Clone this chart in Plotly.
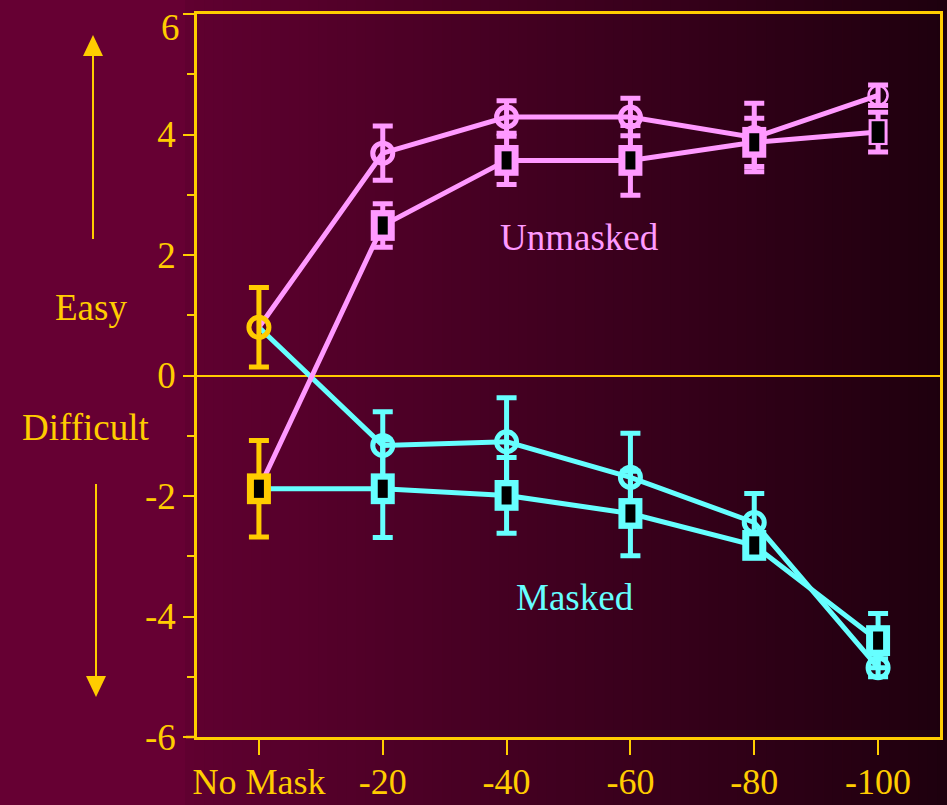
import plotly.graph_objects as go

# ---- data -------------------------------------------------------------
categories = ["No Mask", "-20", "-40", "-60", "-80", "-100"]
masked_cats = categories[1:]

# shared starting point (no mask condition)
no_mask_circle = 0.80
no_mask_circle_err = 0.66
no_mask_square = -1.88
no_mask_square_err = 0.80

unmasked_circle = [3.69, 4.29, 4.29, 3.95, 4.65]
unmasked_circle_err = [0.45, 0.27, 0.31, 0.57, 0.17]
unmasked_square = [2.49, 3.57, 3.57, 3.87, 4.04]
unmasked_square_err = [0.36, 0.40, 0.58, 0.40, 0.33]

masked_circle = [-1.16, -1.10, -1.69, -2.44, -4.85]
masked_circle_err = [0.56, 0.73, 0.73, 0.48, 0.15]
masked_square = [-1.88, -1.99, -2.29, -2.82, -4.40]
masked_square_err = [0.81, 0.63, 0.70, 0.20, 0.45]

y_ticks = [-6, -4, -2, 0, 2, 4, 6]
y_tick_text = ["-6", "-4", "-2", "0", "2", "4", ""]
y_top_label = "6"
y_minor_ticks = [-5, -3, -1, 1, 3, 5]

# ---- style ------------------------------------------------------------
GOLD = "#ffcc00"
PINK = "#ff99ff"
CYAN = "#66ffff"
PAPER = "#660033"
FONT = "Liberation Serif"
FS = 37

W, H = 947, 805
PL, PR, PT, PB = 197, 940, 14, 737


def px_x(p):
    return (p - PL) / (PR - PL)


def px_y(p):
    return (PB - p) / (PB - PT)


fig = go.Figure()


def add_line(color, start, values):
    fig.add_trace(go.Scatter(
        x=categories, y=[start] + list(values), mode="lines",
        line=dict(color=color, width=5), hoverinfo="skip", showlegend=False))


def add_circles(color, x, y, err, widths, sizes, thick=5):
    fig.add_trace(go.Scatter(
        x=x, y=y, mode="markers",
        marker=dict(symbol="circle-open", size=sizes, color=color, opacity=1,
                    line=dict(color=color, width=widths)),
        error_y=dict(type="data", array=err, visible=True, color=color,
                     thickness=thick, width=10),
        showlegend=False))


def add_squares(color, x, y, err, outer_w, outer_s, inner_w, inner_s, thick=5):
    # coloured box
    fig.add_trace(go.Scatter(
        x=x, y=y, mode="markers",
        marker=dict(symbol="line-ns", size=outer_s, color=color, opacity=1,
                    line=dict(color=color, width=outer_w)),
        error_y=dict(type="data", array=err, visible=True, color=color,
                     thickness=thick, width=10),
        showlegend=False))
    # black core
    fig.add_trace(go.Scatter(
        x=x, y=y, mode="markers",
        marker=dict(symbol="line-ns", size=inner_s, color="black", opacity=1,
                    line=dict(color="black", width=inner_w)),
        hoverinfo="skip", showlegend=False))


# connecting lines (masked under unmasked)
add_line(CYAN, no_mask_circle, masked_circle)
add_line(CYAN, no_mask_square, masked_square)
add_line(PINK, no_mask_circle, unmasked_circle)
add_line(PINK, no_mask_square, unmasked_square)

# markers with error bars
add_circles(CYAN, masked_cats, masked_circle, masked_circle_err,
            [5] * 5, [20] * 5)
add_squares(CYAN, masked_cats, masked_square, masked_square_err,
            [24] * 5, [22] * 5, [10] * 5, [13] * 5)
add_circles(PINK, masked_cats, unmasked_circle, unmasked_circle_err,
            [5, 5, 5, 5, 2.5], [20, 20, 20, 20, 19])
add_squares(PINK, masked_cats, unmasked_square, unmasked_square_err,
            [24, 24, 24, 24, 19], [22, 22, 22, 22, 18.5],
            [10, 10, 10, 10, 13], [13, 13, 13, 13, 15.5])

# gold starting points
add_circles(GOLD, ["No Mask"], [no_mask_circle], [no_mask_circle_err], [5], [20])
add_squares(GOLD, ["No Mask"], [no_mask_square], [no_mask_square_err],
            [24], [22], [10], [13])

# ---- background gradient over plot area -------------------------------
shapes = []
g0, g1 = 185, W
c0, c1 = (96, 0, 48), (30, 0, 14)
n = 80
for i in range(n):
    a = g0 + (g1 - g0) * i / n
    b = g0 + (g1 - g0) * (i + 1) / n
    t = (i + 0.5) / n
    col = tuple(round(c0[k] + (c1[k] - c0[k]) * t) for k in range(3))
    shapes.append(dict(type="rect", xref="paper", yref="paper",
                       x0=px_x(a), x1=px_x(b + 0.6), y0=px_y(H), y1=px_y(0),
                       fillcolor="rgb(%d,%d,%d)" % col, line=dict(width=0),
                       layer="below"))

# x-axis line runs slightly past the y-axis
shapes.append(dict(type="line", xref="paper", yref="paper",
                   x0=px_x(186), x1=0, y0=0, y1=0,
                   line=dict(color=GOLD, width=2.5)))

# Easy / Difficult arrows
shapes.append(dict(type="line", xref="paper", yref="paper",
                   x0=px_x(93), x1=px_x(93), y0=px_y(239), y1=px_y(54),
                   line=dict(color=GOLD, width=2)))
shapes.append(dict(type="path", xref="paper", yref="paper",
                   path="M %f %f L %f %f L %f %f Z" % (
                       px_x(83), px_y(56), px_x(103), px_y(56), px_x(93), px_y(35)),
                   fillcolor=GOLD, line=dict(width=0)))
shapes.append(dict(type="line", xref="paper", yref="paper",
                   x0=px_x(96), x1=px_x(96), y0=px_y(484), y1=px_y(680),
                   line=dict(color=GOLD, width=2)))
shapes.append(dict(type="path", xref="paper", yref="paper",
                   path="M %f %f L %f %f L %f %f Z" % (
                       px_x(86), px_y(676), px_x(106), px_y(676), px_x(96), px_y(697)),
                   fillcolor=GOLD, line=dict(width=0)))

txt = dict(family=FONT, size=FS, color=GOLD)
annotations = [
    dict(text="Easy", xref="paper", yref="paper", x=px_x(91), y=px_y(307),
         xanchor="center", yanchor="middle", showarrow=False, font=txt),
    dict(text="Difficult", xref="paper", yref="paper", x=px_x(85), y=px_y(427),
         xanchor="center", yanchor="middle", showarrow=False, font=txt),
    # top y tick label sits just inside the page
    dict(text=y_top_label, xref="paper", yref="paper", x=px_x(182), y=px_y(27),
         xanchor="right", yanchor="middle", showarrow=False, font=txt),
    dict(text="Unmasked", x=2.59, y=2.29, xref="x", yref="y",
         xanchor="center", yanchor="middle", showarrow=False,
         font=dict(family=FONT, size=FS, color=PINK)),
    dict(text="Masked", x=2.55, y=-3.69, xref="x", yref="y",
         xanchor="center", yanchor="middle", showarrow=False,
         font=dict(family=FONT, size=FS, color=CYAN)),
]

fig.update_layout(
    width=W, height=H,
    margin=dict(l=PL, r=W - PR, t=PT, b=H - PB, pad=0, autoexpand=False),
    paper_bgcolor=PAPER, plot_bgcolor="rgba(0,0,0,0)",
    shapes=shapes, annotations=annotations, showlegend=False,
    font=dict(family=FONT, size=FS, color=GOLD),
)
fig.update_xaxes(
    type="category", categoryorder="array", categoryarray=categories,
    range=[-0.5, 5.5], showgrid=False, zeroline=False, automargin=False,
    showline=True, linecolor=GOLD, linewidth=2.5, mirror=True,
    ticks="outside", ticklen=15, tickwidth=2, tickcolor=GOLD,
    ticklabelstandoff=-4,
    tickfont=dict(family=FONT, size=36, color=GOLD),
)
fig.update_yaxes(
    range=[-6, 6], tickvals=y_ticks, ticktext=y_tick_text, showgrid=False,
    automargin=False,
    zeroline=True, zerolinecolor=GOLD, zerolinewidth=2,
    showline=True, linecolor=GOLD, linewidth=2.5, mirror=True,
    ticks="outside", ticklen=11, tickwidth=2, tickcolor=GOLD,
    minor=dict(tickvals=y_minor_ticks, ticks="outside", ticklen=7,
               tickwidth=2, tickcolor=GOLD, showgrid=False),
    tickfont=txt,
)

fig.write_html("out.html")
